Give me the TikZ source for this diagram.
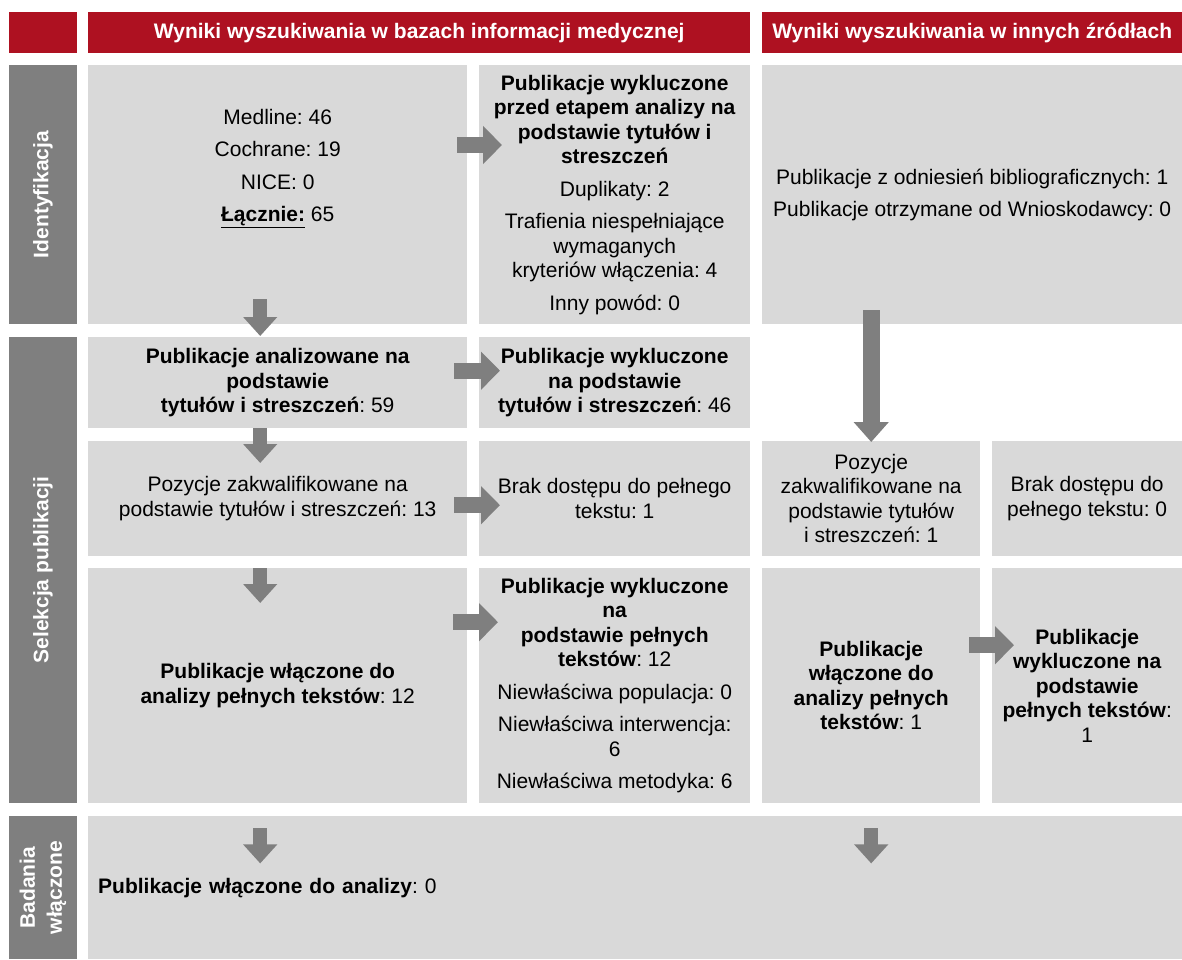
\documentclass[tikz,border=0pt]{standalone}
\usepackage{fontspec}
\setmainfont{Liberation Sans}
\usepackage{tikz}
\usetikzlibrary{calc,arrows.meta}
\frenchspacing

\definecolor{hdred}{RGB}{174,17,33}
\definecolor{boxgray}{RGB}{217,217,217}
\definecolor{sidegray}{RGB}{127,127,127}

\begin{document}
\begin{tikzpicture}[x=1pt, y=-1pt,
  every node/.style={font=\fontsize{21}{24.5}\selectfont, inner sep=0pt},
  hd/.style={fill=hdred, text=white, font=\fontsize{21}{24.5}\selectfont\bfseries, anchor=north west, minimum height=41pt},
  side/.style={fill=sidegray, text=white, font=\fontsize{21}{27}\selectfont\bfseries, rotate=90, align=center, minimum height=68pt},
  box/.style={fill=boxgray, anchor=north west, align=center},
  arrh/.style={draw=sidegray, line width=16pt, -{Triangle[width=37pt,length=19pt]}},
  arrv/.style={draw=sidegray, line width=14pt, -{Triangle[width=33pt,length=19pt]}}]
  \useasboundingbox (0,0) rectangle (1182,959);

  \node [hd, minimum width=68pt] (h0) at (9,12) {};
  \node [hd, minimum width=662pt] (h1) at (88,12) {Wyniki wyszukiwania w bazach informacji medycznej};
  \node [hd, minimum width=420pt] (h2) at (762,12) {Wyniki wyszukiwania w innych źródłach};

  \node [side, minimum width=259pt] (s1) at (43,194.5) {Identyfikacja};
  \node [side, minimum width=466pt] (s2) at (43,570) {Selekcja publikacji};
  \node [side, minimum width=143pt] (s3) at (43,887.5) {Badania\\włączone};

  \node [box, minimum width=379pt, minimum height=259pt] (a1) at (88,65) {Medline: 46\\[8pt]Cochrane: 19\\[8pt]NICE: 0\\[8pt]\underline{\textbf{Łącznie:}} 65\rule[-59pt]{0pt}{59pt}};
  \node [box, minimum width=271pt, minimum height=259pt] (b1) at (479,65) {\textbf{Publikacje wykluczone}\\\textbf{przed etapem analizy na}\\\textbf{podstawie tytułów i}\\\textbf{streszczeń}\\[8pt]Duplikaty: 2\\[8pt]Trafienia niespełniające\\wymaganych\\kryteriów włączenia: 4\\[8pt]Inny powód: 0};
  \node [box, minimum width=420pt, minimum height=259pt] (c1) at (762,65) {Publikacje z odniesień bibliograficznych: 1\\[8pt]Publikacje otrzymane od Wnioskodawcy: 0};

  \node [box, minimum width=379pt, minimum height=91pt] (a2) at (88,337) {\textbf{Publikacje analizowane na}\\\textbf{podstawie}\\\textbf{tytułów i streszczeń}: 59};
  \node [box, minimum width=271pt, minimum height=91pt] (b2) at (479,337) {\textbf{Publikacje wykluczone}\\\textbf{na podstawie}\\\textbf{tytułów i streszczeń}: 46};

  \node [box, minimum width=379pt, minimum height=115pt] (a3) at (88,441) {Pozycje zakwalifikowane na\\podstawie tytułów i streszczeń: 13};
  \node [box, minimum width=271pt, minimum height=115pt] (b3) at (479,441) {Brak dostępu do pełnego\\tekstu: 1};
  \node [box, minimum width=218pt, minimum height=115pt] (c3) at (762,441) {Pozycje\\zakwalifikowane na\\podstawie tytułów\\i streszczeń: 1};
  \node [box, minimum width=190pt, minimum height=115pt] (d3) at (992,441) {Brak dostępu do\\pełnego tekstu: 0};

  \node [box, minimum width=379pt, minimum height=235pt] (a4) at (88,568) {\textbf{Publikacje włączone do}\\\textbf{analizy pełnych tekstów}: 12};
  \node [box, minimum width=271pt, minimum height=235pt] (b4) at (479,568) {\textbf{Publikacje wykluczone}\\\textbf{na}\\\textbf{podstawie pełnych}\\\textbf{tekstów}: 12\\[8pt]Niewłaściwa populacja: 0\\[8pt]Niewłaściwa interwencja:\\6\\[8pt]Niewłaściwa metodyka: 6};
  \node [box, minimum width=218pt, minimum height=235pt] (c4) at (762,568) {\textbf{Publikacje}\\\textbf{włączone do}\\\textbf{analizy pełnych}\\\textbf{tekstów}: 1};
  \node [box, minimum width=190pt, minimum height=235pt] (d4) at (992,568) {\textbf{Publikacje}\\\textbf{wykluczone na}\\\textbf{podstawie}\\\textbf{pełnych tekstów}:\\1};

  \node [box, minimum width=1094pt, minimum height=143pt, text width=1074pt, inner xsep=10pt, align=left] (a5) at (88,816) {\textbf{Publikacje włączone do analizy}: 0};

  \draw [arrv] ($(a1.south)+(-17.5,-25)$) -- ($(a2.north)+(-17.5,-1)$);
  \draw [arrh] ($(a1.north east)+(-10,80)$) -- ($(b1.north west)+(23,80)$);
  \draw [arrv, line width=17pt, -{Triangle[width=34pt,length=20pt]}] ($(c3.north)+(0,-131)$) -- ($(c3.north)+(0,1)$);
  \draw [arrv] ($(a2.south)+(-17.5,0)$) -- ($(a3.north)+(-17.5,22)$);
  \draw [arrh] ($(a2.east)+(-13,-12)$) -- ($(b2.west)+(21,-12)$);
  \draw [arrh] ($(a3.east)+(-13,6.5)$) -- ($(b3.west)+(21,6.5)$);
  \draw [arrv] ($(a4.north)+(-17.5,0)$) -- ($(a4.north)+(-17.5,35)$);
  \draw [arrh] ($(a4.east)+(-14,-63.5)$) -- ($(b4.west)+(19,-63.5)$);
  \draw [arrh] ($(c4.east)+(-11,-40.5)$) -- ($(d4.west)+(22,-40.5)$);
  \draw [arrv] ($(a4.south)+(-17.5,25)$) -- ($(a4.south)+(-17.5,60)$);
  \draw [arrv] ($(c4.south)+(0,25)$) -- ($(c4.south)+(0,60)$);
\end{tikzpicture}
\end{document}
